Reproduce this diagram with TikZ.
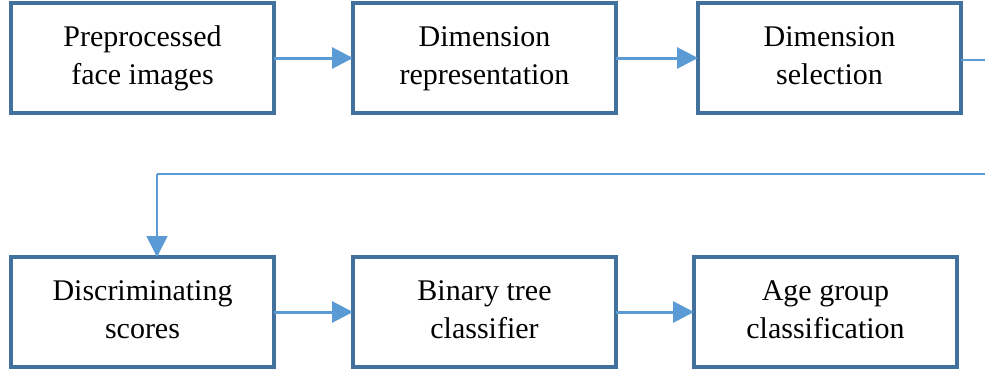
\documentclass[tikz,border=0pt]{standalone}
\usepackage{fontspec}
\setmainfont{Liberation Serif}
\usepackage{tikz}
\usetikzlibrary{arrows.meta,positioning,calc}
\definecolor{bedge}{HTML}{41719C}
\definecolor{barrow}{HTML}{5B9BD5}

\begin{document}
\begin{tikzpicture}[
  font=\fontsize{30pt}{38pt}\selectfont,
  box/.style={draw=bedge,line width=3.2pt,fill=white,align=center,outer sep=0pt,
              minimum width=263pt,minimum height=110pt,inner sep=0pt},
  arr/.style={-{Triangle[length=21pt,width=21pt]},draw=barrow,line width=3pt},
  thin/.style={draw=barrow,line width=1.8pt}]

  \useasboundingbox (0,0) rectangle (985pt,-373pt);

  \node[box] (pre) at (142.5pt,-58pt) {Preprocessed\strut\\face images\strut};
  \node[box,right=79pt of pre] (rep) {Dimension\strut\\representation\strut};
  \node[box,right=82pt of rep] (sel) {Dimension\strut\\selection\strut};

  \node[box,below=144pt of pre] (dis) {Discriminating\strut\\scores\strut};
  \node[box,right=79pt of dis] (bin) {Binary tree\strut\\classifier\strut};
  \node[box,right=78pt of bin] (age) {Age group\strut\\classification\strut};

  \coordinate (out) at (985pt,-60pt);
  \coordinate (in) at (985pt,-174pt);
  \coordinate (drop) at ($(dis.north)+(14.5pt,0)$);

  \draw[arr] (pre)--(rep); \draw[arr] (rep)--(sel);
  \draw[thin] (sel.east|-out)--(out);
  \draw[thin] (in) -- (drop|-in);
  \draw[thin,-{Triangle[length=21pt,width=21pt]}] (drop|-in) -- (drop);
  \draw[arr] (dis)--(bin); \draw[arr] (bin)--(age);
\end{tikzpicture}
\end{document}
